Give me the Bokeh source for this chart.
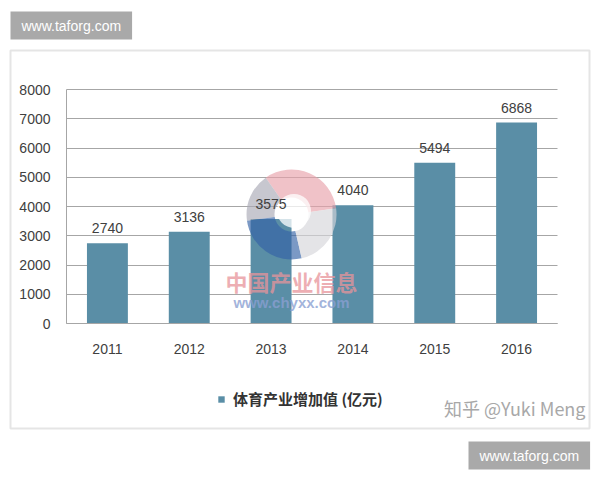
from bokeh.plotting import figure
from bokeh.models import (Range1d, LabelSet, Label, BoxAnnotation, ColumnDataSource,
                          Legend, LegendItem, FixedTicker, Grid)
from bokeh.core.properties import value
from bokeh.embed import file_html
from bokeh.resources import INLINE
import math

# ---- data ----
years = ["2011", "2012", "2013", "2014", "2015", "2016"]
values = [2740, 3136, 3575, 4040, 5494, 6868]
y_ticks = [0, 1000, 2000, 3000, 4000, 5000, 6000, 7000, 8000]
series_name = "体育产业增加值 (亿元)"
watermark = "www.taforg.com"
credit = "知乎 @Yuki Meng"
source_cn = "中国产业信息"
source_url = "www.chyxx.com"

BAR = "#5a8ea6"
GRID = "#a6a6a6"
TXT = "#404040"

W, H = 600, 480
# layout of the chart area inside the canvas (pixels)
CL, CR, CT, CB = 66, 557, 89, 323
n = len(years)
ppu_x = (CR - CL) / n
x0 = -0.5
ymax = y_ticks[-1]
ppu_y = (CB - CT) / ymax

xr = Range1d(x0 - CL / ppu_x, x0 + (W - CL) / ppu_x)
yr = Range1d(-(H - CB) / ppu_y, CB / ppu_y)

p = figure(width=W, height=H, x_range=xr, y_range=yr, output_backend="svg",
           toolbar_location=None, min_border=0, min_border_left=0, min_border_right=0,
           min_border_top=0, min_border_bottom=0)
p.outline_line_color = None
p.background_fill_color = "white"
p.border_fill_color = "white"

xs = list(range(n))
p.xaxis.ticker = FixedTicker(ticks=xs)
p.xaxis.major_label_overrides = {i: y for i, y in zip(xs, years)}
p.xaxis.fixed_location = 0
p.xaxis.bounds = (x0, x0 + n)
p.yaxis.ticker = FixedTicker(ticks=y_ticks)
p.yaxis.fixed_location = x0
p.yaxis.bounds = (0, ymax)
for ax in (p.xaxis, p.yaxis):
    ax.axis_line_color = GRID
    ax.major_tick_line_color = None
    ax.minor_tick_line_color = None
    ax.major_tick_out = 0
    ax.major_tick_in = 0
    ax.minor_tick_out = 0
    ax.major_label_text_font = "Liberation Sans"
    ax.major_label_text_font_size = "14px"
    ax.major_label_text_color = TXT
p.yaxis.major_label_standoff = 16
p.xaxis.major_label_standoff = 20

p.xgrid.grid_line_color = None
if "cross_bounds" in Grid.properties():
    p.ygrid.grid_line_color = GRID
    p.ygrid.bounds = (0, ymax)
    p.ygrid.cross_bounds = (x0, x0 + n)
else:
    p.ygrid.grid_line_color = None
    p.segment(x0=[x0] * len(y_ticks), x1=[x0 + n] * len(y_ticks), y0=y_ticks, y1=y_ticks,
              line_color=GRID, line_width=1)

src = ColumnDataSource(dict(x=xs, v=values, t=[str(v) for v in values]))
bars = p.vbar(x="x", top="v", width=0.5, source=src, fill_color=BAR, line_color=None)

# chyxx logo watermark (decoration)
logo = ColumnDataSource(dict(x=[2.25] * 4, y=[3726] * 4,
                             s=[math.radians(a) for a in (8, 125, 188, 283)],
                             e=[math.radians(a) for a in (125, 188, 283, 368)],
                             col=["#e8a2aa", "#a9a9b6", "#3462a6", "#d6d6da"]))
p.annular_wedge(x="x", y="y", inner_radius=17, outer_radius=45,
                inner_radius_units="screen", outer_radius_units="screen",
                start_angle="s", end_angle="e", fill_color="col", fill_alpha=0.65,
                line_color=None, source=logo)
p.scatter(x=[2.28], y=[3850], size=34, marker="circle", fill_color="white",
          fill_alpha=0.75, line_color=None)
p.add_layout(Label(x=291, y=H - 280, x_units="screen", y_units="screen", text=source_cn,
                   text_align="center", text_baseline="middle", text_font="Noto Sans CJK SC",
                   text_font_size="22px", text_font_style="bold", text_color="#e8949a",
                   text_alpha=0.75))
p.add_layout(Label(x=291, y=H - 302, x_units="screen", y_units="screen", text=source_url,
                   text_align="center", text_baseline="middle", text_font="Liberation Sans",
                   text_font_size="15px", text_font_style="bold", text_color="#8a9fd2",
                   text_alpha=0.8))

labels = LabelSet(x="x", y="v", text="t", source=src, y_offset=15, text_align="center",
                  text_baseline="middle", text_font=value("Liberation Sans"),
                  text_font_size=value("14px"), text_color=TXT)
p.add_layout(labels)

legend = Legend(items=[LegendItem(label=series_name, renderers=[bars])],
                location=(217, H - 409), orientation="horizontal", padding=0, margin=0,
                spacing=0, glyph_width=8, glyph_height=8, label_standoff=8,
                label_height=16, label_text_font="Noto Sans CJK SC",
                label_text_font_size="15px", label_text_font_style="bold",
                label_text_color="#333333", border_line_color=None,
                background_fill_alpha=0)
p.add_layout(legend)

# outer frame
p.add_layout(BoxAnnotation(left=10, right=589, top=H - 50, bottom=H - 428,
                           left_units="screen", right_units="screen",
                           top_units="screen", bottom_units="screen",
                           fill_alpha=0, line_color="#a8a8a8", line_width=2))

p.add_layout(Label(x=585, y=H - 407, x_units="screen", y_units="screen", text=credit,
                   text_align="right", text_baseline="middle", text_font="Noto Sans CJK SC",
                   text_font_size="18px", text_color="#a8a8a8"))

for sx, sy in ((10, H - 25), (468, H - 455)):
    p.add_layout(Label(x=sx, y=sy, x_units="screen", y_units="screen", text=watermark,
                       text_align="left", text_baseline="middle", text_font="Liberation Sans",
                       text_font_size="14px", text_color="white",
                       background_fill_color="#a9a9a9", padding=(11, 6)))

open("out.html", "w").write(file_html(p, INLINE))
